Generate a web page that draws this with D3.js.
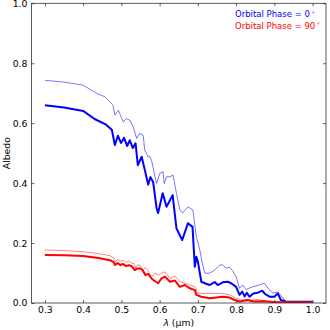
<!DOCTYPE html>
<html>
<head>
<meta charset="utf-8">
<script src="https://cdn.jsdelivr.net/npm/d3@7"></script>
<style>
  body { margin: 0; background: #fff; }
  svg { display: block; font-family: 'DejaVu Sans', sans-serif; }
</style>
</head>
<body>
<div id="chart"></div>
<script>
// wavelength (um) / albedo pairs
const blueThickX = [0.30, 0.35, 0.40, 0.43, 0.46, 0.475, 0.483, 0.491, 0.499, 0.507, 0.515, 0.522, 0.530, 0.537, 0.543, 0.553, 0.562, 0.570, 0.576, 0.583, 0.592, 0.596, 0.608, 0.618, 0.634, 0.644, 0.659, 0.674, 0.686, 0.692, 0.696, 0.700, 0.709, 0.718, 0.731, 0.744, 0.752, 0.765, 0.778, 0.787, 0.800, 0.809, 0.816, 0.822, 0.828, 0.835, 0.845, 0.856, 0.868, 0.876, 0.887, 0.900, 0.909, 0.917, 0.930, 0.950, 1.000];
const blueThickY = [0.660, 0.652, 0.641, 0.614, 0.595, 0.578, 0.527, 0.558, 0.534, 0.551, 0.524, 0.543, 0.517, 0.533, 0.460, 0.488, 0.440, 0.395, 0.420, 0.404, 0.317, 0.300, 0.366, 0.321, 0.360, 0.249, 0.210, 0.266, 0.254, 0.121, 0.154, 0.138, 0.071, 0.066, 0.060, 0.070, 0.060, 0.069, 0.071, 0.066, 0.054, 0.027, 0.038, 0.022, 0.034, 0.021, 0.032, 0.034, 0.041, 0.030, 0.021, 0.021, 0.032, 0.010, 0.005, 0.004, 0.004];

const blueThinX = [0.30, 0.35, 0.40, 0.414, 0.436, 0.457, 0.470, 0.478, 0.483, 0.492, 0.498, 0.505, 0.513, 0.522, 0.531, 0.540, 0.548, 0.557, 0.561, 0.570, 0.575, 0.580, 0.587, 0.592, 0.600, 0.609, 0.612, 0.618, 0.627, 0.635, 0.644, 0.653, 0.660, 0.674, 0.687, 0.696, 0.705, 0.712, 0.718, 0.726, 0.731, 0.744, 0.757, 0.765, 0.774, 0.783, 0.792, 0.800, 0.809, 0.817, 0.826, 0.835, 0.843, 0.861, 0.874, 0.883, 0.896, 0.909, 0.917, 0.930, 0.950, 1.000];
const blueThinY = [0.743, 0.737, 0.727, 0.716, 0.699, 0.688, 0.671, 0.660, 0.627, 0.643, 0.625, 0.604, 0.615, 0.610, 0.588, 0.549, 0.566, 0.560, 0.510, 0.488, 0.488, 0.470, 0.427, 0.399, 0.432, 0.438, 0.399, 0.421, 0.421, 0.427, 0.366, 0.310, 0.300, 0.321, 0.310, 0.221, 0.177, 0.130, 0.100, 0.099, 0.100, 0.110, 0.127, 0.127, 0.116, 0.120, 0.105, 0.088, 0.049, 0.060, 0.045, 0.050, 0.054, 0.060, 0.066, 0.050, 0.033, 0.037, 0.025, 0.005, 0.003, 0.003];

const redThickX = [0.30, 0.35, 0.40, 0.44, 0.47, 0.480, 0.483, 0.490, 0.497, 0.505, 0.512, 0.520, 0.527, 0.535, 0.540, 0.548, 0.555, 0.563, 0.570, 0.580, 0.590, 0.596, 0.605, 0.614, 0.627, 0.640, 0.653, 0.666, 0.679, 0.692, 0.696, 0.709, 0.731, 0.765, 0.783, 0.796, 0.810, 0.830, 0.845, 0.870, 0.900, 1.000];
const redThickY = [0.160, 0.159, 0.157, 0.150, 0.143, 0.136, 0.127, 0.133, 0.127, 0.130, 0.123, 0.126, 0.123, 0.110, 0.114, 0.116, 0.110, 0.093, 0.097, 0.080, 0.071, 0.066, 0.082, 0.088, 0.071, 0.075, 0.054, 0.060, 0.049, 0.043, 0.027, 0.021, 0.016, 0.021, 0.018, 0.010, 0.005, 0.010, 0.005, 0.006, 0.003, 0.002];

const redThinX = [0.30, 0.35, 0.40, 0.44, 0.47, 0.480, 0.484, 0.490, 0.497, 0.505, 0.513, 0.520, 0.527, 0.533, 0.537, 0.543, 0.550, 0.556, 0.563, 0.570, 0.575, 0.580, 0.588, 0.596, 0.605, 0.614, 0.627, 0.640, 0.653, 0.666, 0.679, 0.692, 0.700, 0.722, 0.748, 0.765, 0.783, 0.800, 0.813, 0.835, 0.855, 0.870, 0.887, 0.920, 1.000];
const redThinY = [0.177, 0.175, 0.171, 0.165, 0.158, 0.150, 0.138, 0.145, 0.140, 0.142, 0.136, 0.140, 0.133, 0.132, 0.117, 0.128, 0.124, 0.110, 0.118, 0.108, 0.095, 0.088, 0.100, 0.093, 0.099, 0.104, 0.082, 0.090, 0.071, 0.066, 0.060, 0.054, 0.032, 0.032, 0.032, 0.032, 0.027, 0.016, 0.010, 0.010, 0.012, 0.008, 0.005, 0.003, 0.002];

const xTicks = [0.3, 0.4, 0.5, 0.6, 0.7, 0.8, 0.9, 1.0];
const yTicks = [0.0, 0.2, 0.4, 0.6, 0.8, 1.0];
const legendLabels = ['Orbital Phase = 0', 'Orbital Phase = 90'];

const zip = (xs, ys) => xs.map((x, i) => ({ x, y: ys[i] }));

const series = [
  { id: 'blue-thin', values: zip(blueThinX, blueThinY), color: 'rgba(0,0,255,0.6)', width: 0.9 },
  { id: 'red-thin', values: zip(redThinX, redThinY), color: 'rgba(255,0,0,0.55)', width: 0.9 },
  { id: 'blue-thick', values: zip(blueThickX, blueThickY), color: '#0000ff', width: 2 },
  { id: 'red-thick', values: zip(redThickX, redThickY), color: '#ff0000', width: 2 },
];

const margin = { top: 3.3, right: 4, bottom: 27, left: 31.5 };
const W = 330, H = 330;
const width = W - margin.left - margin.right;
const height = H - margin.top - margin.bottom;

const xScale = d3.scaleLinear().domain([0.265, 1.035]).range([0, width]);
const yScale = d3.scaleLinear().domain([0, 1]).range([height, 0]);

const svg = d3.select('#chart').append('svg')
  .attr('width', W)
  .attr('height', H);

const plot = svg.append('g')
  .attr('transform', `translate(${margin.left},${margin.top})`);

const line = d3.line()
  .x(d => xScale(d.x))
  .y(d => yScale(d.y));

plot.append('defs').append('clipPath').attr('id', 'clip')
  .append('rect').attr('width', width).attr('height', height);

plot.append('g')
  .attr('clip-path', 'url(#clip)')
  .selectAll('path.series')
  .data(series)
  .join('path')
  .attr('class', 'series')
  .attr('d', d => line(d.values))
  .style('fill', 'none')
  .style('stroke', d => d.color)
  .style('stroke-width', d => d.width)
  .style('stroke-linejoin', 'round');

// axes, ticks pointing inward on every side
const tickLen = 2.9;
const fontSize = 9.3;
const legendSize = 8.5;

plot.append('g')
  .attr('class', 'axis x')
  .attr('transform', `translate(0,${height})`)
  .call(d3.axisBottom(xScale).tickValues(xTicks).tickSizeInner(-tickLen).tickSizeOuter(0).tickPadding(3).tickFormat(d3.format('.1f')));

plot.append('g')
  .attr('class', 'axis y')
  .call(d3.axisLeft(yScale).tickValues(yTicks).tickSizeInner(-tickLen).tickSizeOuter(0).tickPadding(4).tickFormat(d3.format('.1f')));

plot.append('g')
  .call(d3.axisTop(xScale).tickValues(xTicks).tickSizeInner(-tickLen).tickSizeOuter(0).tickFormat(''));

plot.append('g')
  .attr('transform', `translate(${width},0)`)
  .call(d3.axisRight(yScale).tickValues(yTicks).tickSizeInner(-tickLen).tickSizeOuter(0).tickFormat(''));

plot.selectAll('.domain').remove();
plot.selectAll('.tick line').attr('stroke', '#333').attr('stroke-width', 0.8);
plot.selectAll('.tick text')
  .attr('fill', '#000')
  .attr('font-family', "'DejaVu Sans', sans-serif")
  .style('font-size', `${fontSize}px`);

plot.append('rect')
  .attr('width', width)
  .attr('height', height)
  .style('fill', 'none')
  .style('stroke', '#333')
  .style('stroke-width', 0.8);

// axis labels
const xLabel = svg.append('text')
  .attr('x', margin.left + width / 2)
  .attr('y', 326)
  .attr('text-anchor', 'middle')
  .style('font-size', `${fontSize}px`);
xLabel.append('tspan').style('font-style', 'italic').text('λ');
xLabel.append('tspan').text(' (μm)');

svg.append('text')
  .attr('transform', `translate(10,${margin.top + height / 2}) rotate(-90)`)
  .attr('text-anchor', 'middle')
  .style('font-size', `${fontSize}px`)
  .text('Albedo');

// legend text, no frame
const legend = svg.selectAll('text.legend')
  .data(legendLabels)
  .join('text')
  .attr('class', 'legend')
  .attr('x', 235)
  .attr('y', (d, i) => 17 + i * 11.5)
  .style('font-size', `${legendSize}px`)
  .style('fill', (d, i) => i === 0 ? '#0000ff' : '#ff0000');
legend.append('tspan').text(d => d);
legend.append('tspan')
  .attr('dx', 1.5)
  .attr('dy', -3.5)
  .style('font-size', '5.5px')
  .text('∘');
</script>
</body>
</html>
